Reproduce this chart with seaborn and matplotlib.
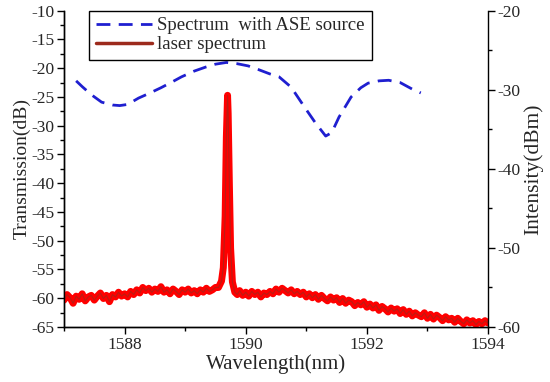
import numpy as np
import pandas as pd
import seaborn as sns
import matplotlib
matplotlib.use('Agg')
from matplotlib import pyplot as plt
from matplotlib.ticker import MultipleLocator
from matplotlib.lines import Line2D

# ASE transmission (left axis, dB)
ase_wl = [1587.2, 1587.3, 1587.45, 1587.62, 1587.8, 1587.92, 1588.05, 1588.23, 1588.4,
          1588.6, 1588.8, 1588.94, 1589.15, 1589.34, 1589.5, 1589.68, 1589.85, 1590.04,
          1590.2, 1590.4, 1590.55, 1590.75, 1590.96, 1591.15, 1591.32, 1591.42, 1591.54,
          1591.74, 1591.9, 1592.02, 1592.2, 1592.36, 1592.55, 1592.76, 1592.89]
ase_db = [-22.2, -23.2, -24.6, -25.9, -26.4, -26.5, -26.3, -25.2, -24.4,
          -23.4, -22.3, -21.5, -20.5, -19.8, -19.3, -19.0, -19.2, -19.6,
          -20.2, -21.0, -21.5, -23.3, -26.6, -29.5, -31.8, -31.2, -28.5,
          -25.0, -23.4, -22.6, -22.2, -22.1, -22.5, -23.7, -24.3]

# laser spectrum (right axis, dBm)
laser_left_wl = np.round(np.arange(1587.0, 1589.52, 0.05), 2)
laser_left = [-56.6, -55.9, -56.3, -57.0, -56.1, -56.5, -55.8, -56.7, -56.2, -56.0,
              -56.6, -56.1, -55.7, -56.4, -56.0, -56.8, -55.9, -56.2, -55.6, -56.1,
              -55.8, -56.2, -55.5, -55.9, -55.3, -55.7, -55.0, -55.4, -55.1, -55.6,
              -55.2, -55.5, -54.9, -55.6, -55.3, -55.8, -55.2, -55.5, -55.9, -55.3,
              -55.6, -55.2, -55.7, -55.4, -55.8, -55.3, -55.6, -55.1, -55.5, -55.3,
              -55.0]
peak_wl = [1589.55, 1589.6, 1589.63, 1589.66, 1589.68, 1589.70, 1589.71, 1589.73,
           1589.75, 1589.78, 1589.82, 1589.86]
peak_dbm = [-55.0, -54.2, -52.5, -46.0, -36.0, -30.7, -33.0, -42.0, -50.0, -54.3,
            -55.6, -55.9]
laser_right_wl = np.round(np.arange(1589.9, 1594.02, 0.05), 2)
laser_right = [-55.4, -56.0, -55.6, -56.1, -55.5, -55.9, -55.6, -56.2, -55.7, -55.9,
               -55.5, -55.8, -55.2, -55.6, -55.1, -55.4, -55.7, -55.3, -55.8, -55.5,
               -55.9, -55.6, -56.2, -55.8, -56.3, -55.9, -56.5, -56.0, -56.4, -56.7,
               -56.2, -56.6, -56.3, -56.9, -56.4, -57.0, -56.6, -56.8, -57.3, -56.9,
               -57.2, -56.8, -57.5, -57.1, -57.6, -57.2, -57.9, -57.4, -57.7, -58.1,
               -57.6, -58.0, -57.7, -58.3, -57.8, -58.4, -58.0, -58.6, -58.2, -58.5,
               -58.7, -58.2, -58.9, -58.4, -59.0, -58.5, -58.8, -59.2, -58.7, -59.1,
               -58.9, -59.4, -58.9, -59.3, -59.6, -59.1, -59.5, -59.2, -59.7, -59.3,
               -59.6, -59.2, -59.5]

ase = pd.DataFrame({'wl': ase_wl, 'val': ase_db})
laser = pd.DataFrame({'wl': list(laser_left_wl) + peak_wl + list(laser_right_wl),
                      'val': laser_left + peak_dbm + laser_right})

sns.set_style('ticks')
plt.rcParams['font.family'] = ['Liberation Serif', 'DejaVu Serif']
plt.rcParams['axes.unicode_minus'] = False

fig = plt.figure(figsize=(5.5, 3.82), dpi=100)
ax = fig.add_axes([0.1164, 0.144, 0.7709, 0.828])
ax2 = ax.twinx()

sns.lineplot(data=ase, x='wl', y='val', ax=ax, sort=False, estimator=None,
             color='#1f1fd0', lw=2, legend=False)
ax.lines[0].set_dashes([5, 3])

sns.lineplot(data=laser, x='wl', y='val', ax=ax2, sort=False, estimator=None,
             color='#ff0000', lw=5, legend=False)
sns.lineplot(data=laser, x='wl', y='val', ax=ax2, sort=False, estimator=None,
             color='#9c2a1c', lw=0.8, alpha=0.7, legend=False)

ax.set_xlim(1587, 1594)
ax.set_ylim(-65, -10)
ax2.set_ylim(-60, -20)
ax.xaxis.set_major_locator(MultipleLocator(2))
ax.xaxis.set_minor_locator(MultipleLocator(1))
ax.yaxis.set_major_locator(MultipleLocator(5))
ax.yaxis.set_minor_locator(MultipleLocator(2.5))
ax2.yaxis.set_major_locator(MultipleLocator(10))
ax2.yaxis.set_minor_locator(MultipleLocator(5))

for a in (ax, ax2):
    a.tick_params(which='major', direction='out', length=5, width=1, labelsize=12.5,
                  color='black', pad=2)
    a.tick_params(which='minor', direction='out', length=3, width=1, color='black')
    for s in a.spines.values():
        s.set_color('black')
        s.set_linewidth(1)
    a.spines['top'].set_visible(False)
ax.spines['right'].set_visible(False)

ax.set_xlabel('Wavelength(nm)', fontsize=15, labelpad=1)
ax.set_ylabel('Transmission(dB)', fontsize=14, labelpad=0)
ax2.set_ylabel('Intensity(dBm)', fontsize=15.5, labelpad=2)
ax2.set_xlabel('')

handles = [Line2D([], [], color='#1f1fd0', lw=2, dashes=[5, 3]),
           Line2D([], [], color='#9c2a1c', lw=2.5)]
leg = ax2.legend(handles, ['Spectrum  with ASE source', 'laser spectrum'],
                 loc='upper left', bbox_to_anchor=(0.059, 1.0), fontsize=13.5,
                 frameon=True, fancybox=False, handlelength=3.0, borderpad=0.35,
                 labelspacing=0.1, handletextpad=0.3, borderaxespad=0)
leg.get_frame().set_edgecolor('black')
leg.get_frame().set_linewidth(1)
leg.get_frame().set_alpha(1)

fig.savefig('out.png', dpi=100)
